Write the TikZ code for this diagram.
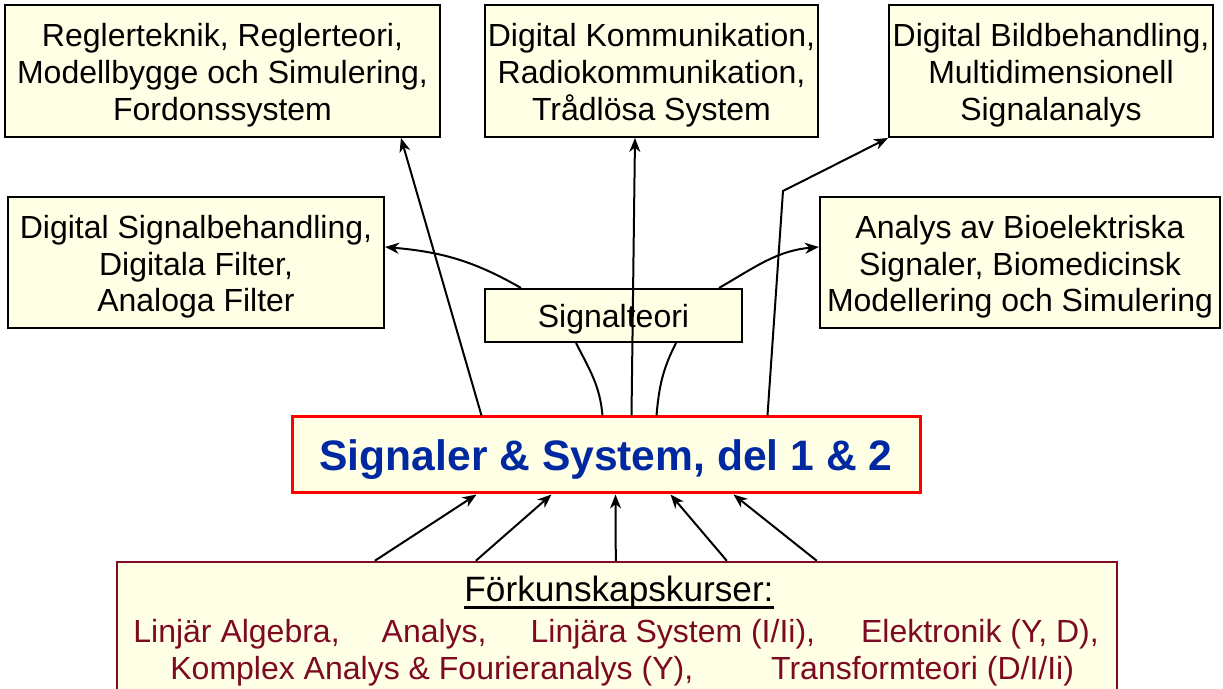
\documentclass[tikz,border=0pt]{standalone}
\usepackage{fontspec}
\setmainfont{Liberation Sans}
\usetikzlibrary{arrows.meta}
\definecolor{boxfill}{RGB}{255,255,229}
\definecolor{titleblue}{RGB}{0,40,160}
\definecolor{kursred}{RGB}{125,10,35}
\newcommand{\oben}{\rule{0pt}{1em}}
\tikzset{
    kurs/.style={draw, line width=1pt, fill=boxfill, align=center, inner sep=0pt,
        font=\fontsize{16}{18.4}\selectfont,
        execute at begin node={\rule{0pt}{0.93em}},
        execute at end node={\rule[-0.21em]{0pt}{0pt}}},
    pil/.style={-{Stealth[length=7pt,width=5.5pt,inset=2.2pt]}, line width=1pt},
    led/.style={line width=1pt},
    kurstext/.style={inner sep=0pt, text=kursred, font=\fontsize{16}{18.4}\selectfont},
}
\begin{document}
\begin{tikzpicture}[x=0.5pt,y=-0.5pt]
        \useasboundingbox (0,0) rectangle (1223,689);
        % boxes
        \node[kurs, minimum width=217.5pt, minimum height=66pt] (regl) at (222.5,71) {\oben Reglerteknik, Reglerteori,\\Modellbygge och Simulering,\\Fordonssystem};
        \node[kurs, minimum width=166.5pt, minimum height=66pt] (komm) at (651.5,71) {\oben Digital Kommunikation,\\Radiokommunikation,\\Trådlösa System};
        \node[kurs, minimum width=162pt, minimum height=66pt] (bild) at (1051,71) {\oben Digital Bildbehandling,\\Multidimensionell\\Signalanalys};
        \node[kurs, minimum width=188pt, minimum height=65.5pt] (dsp) at (196,262.5) {\oben Digital Signalbehandling,\\Digitala Filter,\\Analoga Filter};
        \node[kurs, minimum width=200pt, minimum height=65.5pt] (bio) at (1020,262.5) {\oben Analys av Bioelektriska\\Signaler, Biomedicinsk\\Modellering och Simulering};
        \node[kurs, minimum width=128.5pt, minimum height=26.5pt] (teori) at (613.5,315.5) {Signalteori};
        \node[kurs, draw=red, line width=1.5pt, minimum width=314pt, minimum height=38pt, text=titleblue,
            font=\fontsize{21.3}{24}\selectfont\bfseries] (sos) at (606,455) {Signaler \& System, del 1 \& 2};
        \node[kurs, draw=kursred, line width=1.2pt, minimum width=500pt, minimum height=80pt] (pre) at (617,642) {};
        % prerequisite courses
        \node[kurstext, text=black, anchor=base, font=\fontsize{17.6}{20}\selectfont] (prehead) at (619,602) {Förkunskapskurser:};
        \draw[line width=1.4pt] ([yshift=-2.8pt]prehead.base west) -- ([yshift=-2.8pt]prehead.base east);
        \node[kurstext, anchor=base west] (pre1) at (133,643) {Linjär Algebra,\hspace{21pt}Analys,\hspace{22pt}Linjära System (I/Ii),\hspace{23pt}Elektronik (Y, D),};
        \node[kurstext, anchor=base west] (pre2) at (170,680) {Komplex Analys \& Fourieranalys (Y),\hspace{39pt}Transformteori (D/I/Ii)};
        % arrows into the course
        \foreach \a/\b in {129.5/93, 180/130.5, 250/162.5, 305.5/190, 350.5/221.5} {
                \draw[pil] ([xshift=\a pt]pre.north west) -- ([xshift=\b pt]sos.south west);
            }
        % arrows out of the course
        \draw[pil] ([xshift=95.5pt]sos.north west) -- ([xshift=198.5pt]regl.south west);
        \draw[pil] ([xshift=170.5pt]sos.north west) -- ([xshift=75.5pt]komm.south west);
        \coordinate (knick) at (783,191);
        \draw[pil] ([xshift=238.5pt]sos.north west) -- (knick) -- (bild.south west);
        \draw[led] ([xshift=156pt]sos.north west) to[out=95,in=-63] ([xshift=46pt]teori.south west);
        \draw[led] ([xshift=183pt]sos.north west) to[out=85,in=-117] ([xshift=96pt]teori.south west);
        \draw[pil] ([xshift=18.5pt]teori.north west) to[out=150,in=-5] ([yshift=7.75pt]dsp.east);
        \draw[pil] ([xshift=-12pt]teori.north east) to[out=30,in=185] ([yshift=7.75pt]bio.west);
    \end{tikzpicture}
\end{document}
